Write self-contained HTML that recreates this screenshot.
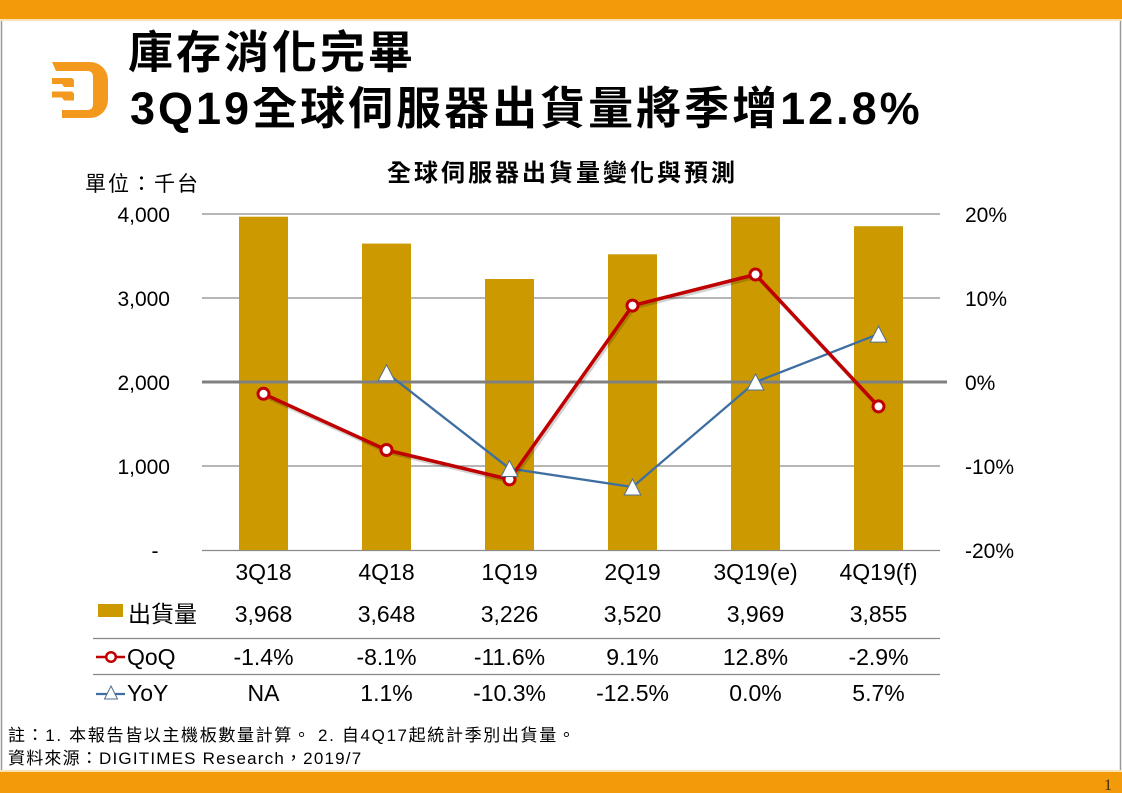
<!DOCTYPE html>
<html><head><meta charset="utf-8">
<style>
html,body{margin:0;padding:0;background:#fff;}
body{width:1122px;height:793px;overflow:hidden;}
svg{display:block;}
text{font-family:"Liberation Sans","Noto Sans CJK TC",sans-serif;}
</style></head>
<body>
<svg width="1122" height="793" viewBox="0 0 1122 793" xmlns="http://www.w3.org/2000/svg">
  <!-- frame -->
  <rect x="0" y="0" width="1122" height="793" fill="#fff"/>
  <rect x="0" y="0" width="1122" height="19" fill="#F39A0B"/>
  <rect x="0" y="19" width="1122" height="2" fill="#FBE3B5"/>
  <rect x="0" y="772" width="1122" height="21" fill="#F39A0B"/>
  <rect x="0" y="770" width="1122" height="2" fill="#FBE3B5"/>
  <line x1="1.5" y1="21" x2="1.5" y2="770" stroke="#999" stroke-width="1.5"/>
  <line x1="1120.5" y1="21" x2="1120.5" y2="770" stroke="#999" stroke-width="1.5"/>
  <text x="1104" y="790" font-size="16" fill="#3a2a10" style="font-family:'Liberation Serif',serif">1</text>

  <!-- logo -->
  <g fill="#F39A1E">
    <path d="M52,62 H90 A18,18 0 0 1 108,80 V100 A18,18 0 0 1 90,118 H62 V110 H88 A5,5 0 0 0 93,105 V76 A5,5 0 0 0 88,71 H56 Z"/>
    <path d="M52,78 H72 L74,80 V87 H64 L62,84 H52 Z"/>
    <path d="M52,91.5 H72 L74,93.5 V100.5 H64 L62,97.5 H52 Z"/>
  </g>

  <!-- main title -->
  <text x="128" y="68" font-size="45" font-weight="700" fill="#000" letter-spacing="3">庫存消化完畢</text>
  <text x="130" y="124" font-size="45" font-weight="700" fill="#000" letter-spacing="3">3Q19全球伺服器出貨量將季增12.8%</text>

  <!-- chart title & unit -->
  <text x="387" y="181" font-size="24" font-weight="700" fill="#000" letter-spacing="3">全球伺服器出貨量變化與預測</text>
  <text x="85" y="191" font-size="21" fill="#000" letter-spacing="2">單位：千台</text>

  <!-- gridlines -->
  <g stroke="#8a8a8a" stroke-width="1.3">
    <line x1="202" y1="214" x2="940" y2="214"/>
    <line x1="202" y1="298" x2="940" y2="298"/>
    <line x1="202" y1="466" x2="940" y2="466"/>
    <line x1="202" y1="550.5" x2="940" y2="550.5"/>
  </g>

  <!-- bars -->
  <g fill="#CC9A00">
    <rect x="239" y="216.7" width="49" height="333.3"/>
    <rect x="362" y="243.6" width="49" height="306.4"/>
    <rect x="485" y="279.0" width="49" height="271.0"/>
    <rect x="608" y="254.3" width="49" height="295.7"/>
    <rect x="731" y="216.6" width="49" height="333.4"/>
    <rect x="854" y="226.2" width="49" height="323.8"/>
  </g>

  <!-- zero line -->
  <line x1="202" y1="382" x2="947" y2="382" stroke="#808080" stroke-width="3"/>

  <!-- YoY line -->
  <polyline points="386.5,372.8 509.5,468.5 632.5,487 755.5,382 878.5,334.1" fill="none" stroke="#3E6FA0" stroke-width="2.3"/>

  <!-- QoQ line shadow -->
  <polyline points="265,396 388,452 511,481.5 634,307.5 757,276.5 880,408.5" fill="none" stroke="#000" stroke-opacity="0.18" stroke-width="4"/>
  <!-- QoQ line -->
  <polyline points="263.5,393.8 386.5,450 509.5,479.4 632.5,305.6 755.5,274.5 878.5,406.4" fill="none" stroke="#C00000" stroke-width="3.5" stroke-linejoin="round"/>
  <g fill="#fff" stroke="#C00000" stroke-width="3">
    <circle cx="263.5" cy="393.8" r="5.5"/>
    <circle cx="386.5" cy="450" r="5.5"/>
    <circle cx="509.5" cy="479.4" r="5.5"/>
    <circle cx="632.5" cy="305.6" r="5.5"/>
    <circle cx="755.5" cy="274.5" r="5.5"/>
    <circle cx="878.5" cy="406.4" r="5.5"/>
  </g>

  <!-- YoY markers -->
  <g fill="#fff" stroke="#4F6F8F" stroke-width="1">
    <polygon points="386.5,364.8 394.8,380.8 378.2,380.8"/>
    <polygon points="509.5,460.5 517.8,476.5 501.2,476.5"/>
    <polygon points="632.5,479 640.8,495 624.2,495"/>
    <polygon points="755.5,374 763.8,390 747.2,390"/>
    <polygon points="878.5,326.1 886.8,342.1 870.2,342.1"/>
  </g>

  <!-- left axis labels -->
  <g font-size="21" fill="#000" text-anchor="end">
    <text x="170" y="222">4,000</text>
    <text x="170" y="306">3,000</text>
    <text x="170" y="390">2,000</text>
    <text x="170" y="474">1,000</text>
  </g>
  <text x="155" y="558" font-size="21" fill="#000" text-anchor="middle">-</text>

  <!-- right axis labels -->
  <g font-size="21" fill="#000">
    <text x="965" y="222">20%</text>
    <text x="965" y="306">10%</text>
    <text x="965" y="390">0%</text>
    <text x="965" y="474">-10%</text>
    <text x="965" y="558">-20%</text>
  </g>

  <!-- categories -->
  <g font-size="23" fill="#000" text-anchor="middle">
    <text x="263.5" y="580">3Q18</text>
    <text x="386.5" y="580">4Q18</text>
    <text x="509.5" y="580">1Q19</text>
    <text x="632.5" y="580">2Q19</text>
    <text x="755.5" y="580">3Q19(e)</text>
    <text x="878.5" y="580">4Q19(f)</text>
  </g>

  <!-- data table -->
  <line x1="93" y1="638.5" x2="940" y2="638.5" stroke="#888" stroke-width="1.3"/>
  <line x1="93" y1="674.5" x2="940" y2="674.5" stroke="#888" stroke-width="1.3"/>

  <rect x="98" y="604" width="25" height="13" fill="#CC9A00"/>
  <text x="128" y="622" font-size="23" fill="#000">出貨量</text>

  <line x1="96" y1="657" x2="125" y2="657" stroke="#C00000" stroke-width="2.5"/>
  <circle cx="111" cy="657" r="4.8" fill="#fff" stroke="#C00000" stroke-width="2.5"/>
  <text x="127" y="665" font-size="23" fill="#000">QoQ</text>

  <line x1="96" y1="694" x2="125" y2="694" stroke="#3E6FA0" stroke-width="2.3"/>
  <polygon points="111,686 117.5,699 104.5,699" fill="#fff" stroke="#4F6F8F" stroke-width="1"/>
  <text x="127" y="701" font-size="23" fill="#000">YoY</text>

  <g font-size="23" fill="#000" text-anchor="middle">
    <text x="263.5" y="622">3,968</text>
    <text x="386.5" y="622">3,648</text>
    <text x="509.5" y="622">3,226</text>
    <text x="632.5" y="622">3,520</text>
    <text x="755.5" y="622">3,969</text>
    <text x="878.5" y="622">3,855</text>

    <text x="263.5" y="665">-1.4%</text>
    <text x="386.5" y="665">-8.1%</text>
    <text x="509.5" y="665">-11.6%</text>
    <text x="632.5" y="665">9.1%</text>
    <text x="755.5" y="665">12.8%</text>
    <text x="878.5" y="665">-2.9%</text>

    <text x="263.5" y="701">NA</text>
    <text x="386.5" y="701">1.1%</text>
    <text x="509.5" y="701">-10.3%</text>
    <text x="632.5" y="701">-12.5%</text>
    <text x="755.5" y="701">0.0%</text>
    <text x="878.5" y="701">5.7%</text>
  </g>

  <!-- footnotes -->
  <text x="8" y="741" font-size="17" fill="#000" letter-spacing="1.65">註：1. 本報告皆以主機板數量計算。 2. 自4Q17起統計季別出貨量。</text>
  <text x="8" y="764" font-size="17" fill="#000" letter-spacing="1.2">資料來源：DIGITIMES Research，2019/7</text>
</svg>
</body></html>
